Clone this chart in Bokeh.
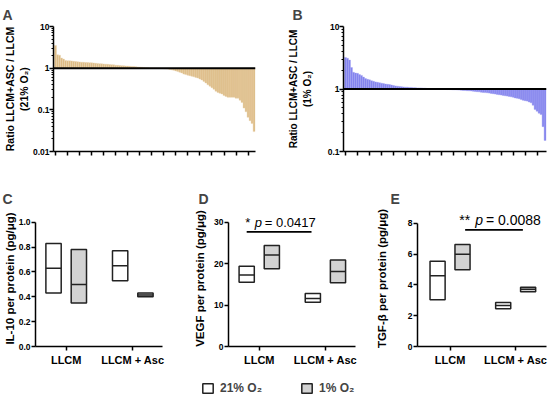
from bokeh.plotting import figure
from bokeh.layouts import column, row
from bokeh.models import (Range1d, FixedTicker, Span, Label, Legend,
                          LegendItem, CustomJSTickFormatter, PrintfTickFormatter,
                          CustomLabelingPolicy)
from bokeh.embed import file_html
from bokeh.resources import INLINE

# ---------------- data ----------------
# Panel A: ratio LLCM+ASC / LLCM at 21% O2 (sorted, one bar per protein)
ratio_21 = [3.5, 2.1, 2.05, 1.75, 1.65, 1.52, 1.5, 1.5, 1.49, 1.46,
            1.44, 1.42, 1.41, 1.39, 1.38, 1.37, 1.36, 1.35, 1.34, 1.33,
            1.31, 1.3, 1.28, 1.27, 1.26, 1.25, 1.24, 1.22, 1.21, 1.2,
            1.18, 1.17, 1.16, 1.15, 1.14, 1.13, 1.12, 1.11, 1.1, 1.09,
            1.08, 1.07, 1.06, 1.05, 1.04, 1.03, 1.02, 1.01, 1.005, 1.0,
            0.995, 0.99, 0.985, 0.98, 0.97, 0.96, 0.95, 0.93, 0.91, 0.89,
            0.86, 0.83, 0.8, 0.77, 0.72, 0.7, 0.68, 0.66, 0.64, 0.62,
            0.6, 0.58, 0.55, 0.52, 0.48, 0.44, 0.4, 0.37, 0.34, 0.31,
            0.28, 0.26, 0.25, 0.24, 0.22, 0.21, 0.2, 0.2, 0.2, 0.2,
            0.19, 0.19, 0.17, 0.15, 0.11, 0.09, 0.066, 0.055, 0.047, 0.03]

# Panel B: ratio LLCM+ASC / LLCM at 1% O2
ratio_1 = [3.2, 3.1, 2.9, 2.2, 1.85, 1.8, 1.78, 1.7, 1.65, 1.55,
           1.47, 1.43, 1.4, 1.36, 1.33, 1.3, 1.28, 1.26, 1.24, 1.22,
           1.2, 1.19, 1.18, 1.16, 1.14, 1.12, 1.11, 1.1, 1.09, 1.08,
           1.07, 1.07, 1.06, 1.06, 1.05, 1.05, 1.04, 1.04, 1.04, 1.03,
           1.03, 1.02, 1.02, 1.01, 1.01, 1.0, 1.0, 0.995, 0.99, 0.99,
           0.985, 0.98, 0.98, 0.975, 0.97, 0.97, 0.965, 0.96, 0.955, 0.95,
           0.945, 0.94, 0.935, 0.93, 0.92, 0.91, 0.905, 0.9, 0.89, 0.88,
           0.875, 0.87, 0.86, 0.85, 0.84, 0.83, 0.82, 0.81, 0.8, 0.79,
           0.78, 0.77, 0.76, 0.75, 0.74, 0.72, 0.71, 0.7, 0.68, 0.66,
           0.65, 0.64, 0.62, 0.6, 0.55, 0.47, 0.44, 0.41, 0.39, 0.25, 0.15]

log_ticks_a = [0.01, 0.1, 1, 10]
log_ticks_b = [0.1, 1, 10]

categories = ["LLCM", "LLCM + Asc"]

# floating bars: min / mean / max per category
il10_21_min = [0.43, 0.53]
il10_21_mean = [0.63, 0.65]
il10_21_max = [0.83, 0.77]
il10_1_min = [0.35, 0.40]
il10_1_mean = [0.50, 0.415]
il10_1_max = [0.78, 0.43]

vegf_21_min = [15.5, 10.7]
vegf_21_mean = [17.3, 11.6]
vegf_21_max = [19.4, 12.8]
vegf_1_min = [18.8, 15.4]
vegf_1_mean = [22.1, 18.1]
vegf_1_max = [24.4, 20.9]

tgf_21_min = [3.04, 2.45]
tgf_21_mean = [4.6, 2.66]
tgf_21_max = [5.53, 2.86]
tgf_1_min = [4.99, 3.56]
tgf_1_mean = [5.99, 3.71]
tgf_1_max = [6.63, 3.84]

il10_ticks = [0, 0.2, 0.4, 0.6, 0.8, 1.0]
vegf_ticks = [0, 10, 20, 30]
tgf_ticks = [0, 2, 4, 6, 8]

vegf_p = "0.0417"
tgf_p = "0.0088"

FONT = "Liberation Sans"
INK = "#222222"
GRAY = "#D3D3D3"


def style_common(p, letter_offset, standoff):
    p.outline_line_color = None
    p.grid.visible = False
    p.title.text_font = FONT
    p.title.text_font_size = "14px"
    p.title.text_font_style = "bold"
    p.title.align = "left"
    p.title.offset = letter_offset
    p.title.standoff = standoff
    for ax in p.axis:
        ax.axis_line_color = "black"
        ax.axis_line_width = 1.5
        ax.major_tick_line_color = "black"
        ax.major_tick_line_width = 1.5
        ax.major_tick_in = 0
        ax.major_tick_out = 4
        ax.major_label_text_font = FONT
        ax.major_label_text_font_style = "bold"
        ax.major_label_text_color = "black"
        ax.axis_label_text_font = FONT
        ax.axis_label_text_font_style = "bold"
        ax.axis_label_text_color = "black"


def ratio_panel(vals, color, edge, letter, ylabel, yticks, width, height,
                left, right, top, bottom, label_size, label_standoff,
                letter_offset):
    n = len(vals)
    p = figure(width=width, height=height, y_axis_type="log",
               x_range=Range1d(-1.0, n - 0.3),
               y_range=Range1d(yticks[0], yticks[-1]),
               output_backend="svg", toolbar_location=None,
               min_border_left=left, min_border_right=right,
               min_border_top=top, min_border_bottom=bottom, title=letter)
    p.vbar(x=list(range(n)), top=vals, bottom=1, width=1.0,
           fill_color=color, line_color=edge, line_width=0.4)
    p.add_layout(Span(location=1, dimension="width", line_color="black",
                      line_width=2))
    style_common(p, letter_offset, 8)
    minor = [m * t for t in yticks[:-1] for m in range(2, 10)]
    p.yaxis.ticker = FixedTicker(ticks=yticks, minor_ticks=minor)
    p.yaxis.formatter = CustomJSTickFormatter(
        code="return String(Number(tick.toPrecision(2)))")
    p.yaxis.minor_tick_line_color = "black"
    p.yaxis.minor_tick_in = 0
    p.yaxis.minor_tick_out = 2
    p.yaxis.major_label_text_font_size = "8.5px"
    p.yaxis.major_label_standoff = 0
    p.yaxis.axis_label = ylabel
    p.yaxis.axis_label_text_font_size = label_size
    p.yaxis.axis_label_standoff = label_standoff
    p.xaxis.ticker = FixedTicker(ticks=list(range(0, n - 1, 6)))
    p.xaxis.minor_tick_line_color = None
    p.xaxis.major_label_text_font_size = "1px"
    p.xaxis.major_label_standoff = 0
    p.xaxis.major_label_policy = CustomLabelingPolicy(
        code="for (const i of indices) { if (i < 0) yield i }")
    return p


def box_panel(letter, ylabel, lo21, mid21, hi21, lo1, mid1, hi1,
              ytop, ybound, yticks, yfmt, xr, width, left, right,
              label_standoff, letter_offset):
    p = figure(width=width, height=204, x_range=Range1d(*xr),
               y_range=Range1d(0, ytop), output_backend="svg",
               toolbar_location=None, min_border_left=left,
               min_border_right=right, min_border_top=44,
               min_border_bottom=24, title=letter)
    pos = [1, 2]
    off, w = 0.19, 0.23
    x21 = [c - off for c in pos]
    x1 = [c + off for c in pos]
    p.vbar(x=x21, bottom=lo21, top=hi21, width=w, fill_color="white",
           line_color=INK, line_width=1.5)
    p.vbar(x=x1, bottom=lo1, top=hi1, width=w, fill_color=GRAY,
           line_color=INK, line_width=1.5)
    p.segment(x0=[x - w / 2 for x in x21], x1=[x + w / 2 for x in x21],
              y0=mid21, y1=mid21, line_color=INK, line_width=1.5)
    p.segment(x0=[x - w / 2 for x in x1], x1=[x + w / 2 for x in x1],
              y0=mid1, y1=mid1, line_color=INK, line_width=1.5)
    style_common(p, letter_offset, 7)
    p.yaxis.ticker = FixedTicker(ticks=yticks)
    p.yaxis.formatter = PrintfTickFormatter(format=yfmt)
    p.yaxis.bounds = (0, ybound)
    p.yaxis.minor_tick_line_color = None
    p.yaxis.major_label_text_font_size = "8.5px"
    p.yaxis.major_label_standoff = 1
    p.yaxis.axis_label = ylabel
    p.yaxis.axis_label_text_font_size = "11.5px"
    p.yaxis.axis_label_standoff = label_standoff
    p.xaxis.ticker = FixedTicker(ticks=pos)
    p.xaxis.major_label_overrides = {1: categories[0], 2: categories[1]}
    p.xaxis.major_label_text_font_size = "11px"
    p.xaxis.major_label_standoff = 3
    return p


def add_sig(p, x0, x1, ybar, xt, yt, stars, pval, size):
    p.segment(x0=[x0], x1=[x1], y0=[ybar], y1=[ybar], line_color="black",
              line_width=1.8)
    kw = dict(y=yt, text_font=FONT, text_font_size="%dpx" % size,
              text_baseline="middle", text_color="black")
    star_w = 0.42 * size * len(stars)
    p.add_layout(Label(x=xt, text=stars, **kw))
    p.add_layout(Label(x=xt, x_offset=star_w + 0.3 * size, text="p",
                       text_font_style="italic", **kw))
    p.add_layout(Label(x=xt, x_offset=star_w + 1.07 * size,
                       text="= " + pval, **kw))


pa = ratio_panel(ratio_21, "#DDBB85", "#EBD6B2", "A",
                 "Ratio LLCM+ASC / LLCM\n(21% O\u2082)", log_ticks_a,
                 272, 166, 52, 17, 24, 15, "10.5px", 0, -51)
pb = ratio_panel(ratio_1, "#8383EE", "#A5A5F3", "B",
                 "Ratio LLCM+ASC / LLCM\n(1% O\u2082)", log_ticks_b,
                 276, 166, 71, 2, 25, 13, "10px", 12, -51)

pc = box_panel("C", "IL-10 per protein (pg/\u03bcg)", il10_21_min, il10_21_mean,
               il10_21_max, il10_1_min, il10_1_mean, il10_1_max,
               1.095, 1.0, il10_ticks, "%.1f", (0.539, 2.446), 180, 35, 18,
               0, -33)
pd = box_panel("D", "VEGF per protein (pg/\u03bcg)", vegf_21_min, vegf_21_mean,
               vegf_21_max, vegf_1_min, vegf_1_mean, vegf_1_max,
               32.85, 30, vegf_ticks, "%d", (0.535, 2.455), 184, 48, 9,
               5, -30)
pe = box_panel("E", "TGF-\u03b2 per protein (pg/\u03bcg)", tgf_21_min, tgf_21_mean,
               tgf_21_max, tgf_1_min, tgf_1_mean, tgf_1_max,
               8.83, 8, tgf_ticks, "%d", (0.504, 2.47), 184, 53, 2,
               17, -27)

add_sig(pd, 0.81, 1.79, 27.7, 0.79, 30.0, "*", vegf_p, 13)
add_sig(pe, 1.23, 2.11, 7.57, 1.14, 8.2, "**", tgf_p, 14)

# legend strip (proxy renderers are hidden; only their legend swatches show)
lg = figure(width=548, height=27, x_range=Range1d(0, 1), y_range=Range1d(0, 1),
            output_backend="svg", toolbar_location=None, min_border=0,
            x_axis_location=None, y_axis_location=None)
lg.outline_line_color = None
lg.grid.visible = False
g21 = lg.vbar(x=[0.5], top=[0.5], width=0.1, fill_color="white",
              line_color=INK, line_width=1.5, visible=False)
g1 = lg.vbar(x=[0.5], top=[0.5], width=0.1, fill_color=GRAY,
             line_color=INK, line_width=1.5, visible=False)
legend = Legend(items=[LegendItem(label="21% O\u2082", renderers=[g21]),
                       LegendItem(label="1% O\u2082", renderers=[g1])],
                orientation="horizontal", location=(201, 2))
legend.padding = 0
legend.margin = 0
legend.spacing = 38
legend.glyph_width = 13
legend.glyph_height = 12
legend.label_height = 12
legend.label_standoff = 6
legend.label_text_font = FONT
legend.label_text_font_style = "bold"
legend.label_text_font_size = "12px"
legend.label_text_baseline = "middle"
legend.border_line_color = None
legend.background_fill_alpha = 0
legend.inactive_fill_alpha = 0
lg.add_layout(legend)

layout = column(row(pa, pb), row(pc, pd, pe), lg)
open("out.html", "w").write(file_html(layout, INLINE))
